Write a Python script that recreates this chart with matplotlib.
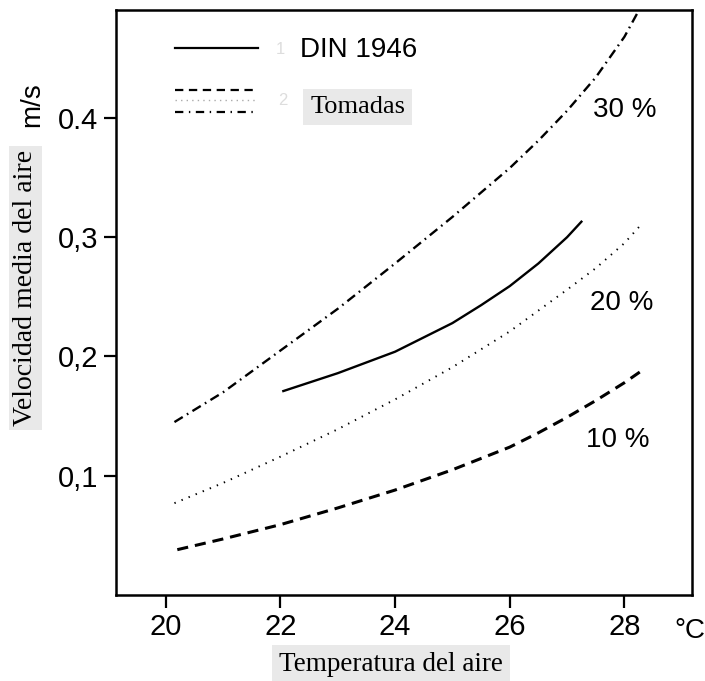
import matplotlib.pyplot as plt

plt.rcParams['lines.scale_dashes'] = False

# temperatura (°C) y velocidad media del aire (m/s)
t_30 = [20.15, 21.0, 22.0, 23.0, 24.0, 25.0, 26.0, 26.5, 27.0, 27.5, 28.0, 28.25]
v_30 = [0.145, 0.170, 0.205, 0.240, 0.278, 0.317, 0.358, 0.381, 0.406, 0.434, 0.468, 0.490]

t_din = [22.05, 23.0, 24.0, 25.0, 25.5, 26.0, 26.5, 27.0, 27.25]
v_din = [0.171, 0.186, 0.204, 0.228, 0.243, 0.259, 0.278, 0.300, 0.313]

t_20 = [20.15, 21.0, 22.0, 23.0, 24.0, 25.0, 26.0, 27.0, 27.5, 28.0, 28.3]
v_20 = [0.077, 0.094, 0.116, 0.139, 0.164, 0.191, 0.221, 0.256, 0.274, 0.295, 0.311]

t_10 = [20.2, 21.0, 22.0, 23.0, 24.0, 25.0, 26.0, 26.5, 27.0, 27.5, 28.0, 28.27]
v_10 = [0.038, 0.047, 0.059, 0.073, 0.088, 0.105, 0.124, 0.136, 0.149, 0.163, 0.178, 0.187]

xticks = [20, 22, 24, 26, 28]
yticks = [0.1, 0.2, 0.3, 0.4]
ytick_labels = ['0,1', '0,2', '0,3', '0.4']

sans = 'Liberation Sans'
serif = 'Liberation Serif'
grey = '#e9e9e9'

fig = plt.figure(figsize=(7.05, 6.81), dpi=100)
ax = fig.add_axes([0.1645, 0.1263, 0.8171, 0.859])

ax.plot(t_30, v_30, color='black', lw=1.7, dashes=(7, 3.5, 1.2, 3.5))
ax.plot(t_din, v_din, color='black', lw=1.7)
ax.plot(t_20, v_20, color='black', lw=1.4, dashes=(1, 4.5))
ax.plot(t_10, v_10, color='black', lw=2.2, dashes=(8, 5))

ax.set_xlim(19.13, 29.18)
ax.set_ylim(0, 0.4905)
ax.set_xticks(xticks)
ax.set_xticklabels([str(t) for t in xticks], fontsize=21, family=sans)
ax.set_yticks(yticks)
ax.set_yticklabels(ytick_labels, fontsize=21, family=sans)
ax.tick_params(direction='out', length=9, width=1.6, pad=4)
for s in ax.spines.values():
    s.set_linewidth(1.8)

# etiquetas de las curvas
ax.text(28.0, 0.407, '30 %', fontsize=20, family=sans, ha='center', va='center')
ax.text(27.95, 0.245, '20 %', fontsize=20, family=sans, ha='center', va='center')
ax.text(27.88, 0.130, '10 %', fontsize=20, family=sans, ha='center', va='center')

# leyenda dibujada a mano
tr = ax.transAxes
ax.plot([0.102, 0.2465], [0.935, 0.935], color='black', lw=1.6, transform=tr)
ax.plot([0.102, 0.2465], [0.863, 0.863], color='black', lw=1.6, dashes=(6, 4), transform=tr)
ax.plot([0.102, 0.2465], [0.846, 0.846], color='#aaaaaa', lw=1.0, dashes=(1, 3), transform=tr)
ax.plot([0.102, 0.2465], [0.826, 0.826], color='black', lw=1.6, dashes=(6, 4, 1, 4), transform=tr)
ax.text(0.285, 0.932, '1', fontsize=12, family=sans, color='#dddddd', ha='center', va='center', transform=tr)
ax.text(0.290, 0.846, '2', fontsize=12, family=sans, color='#dddddd', ha='center', va='center', transform=tr)
ax.text(0.319, 0.932, 'DIN 1946', fontsize=20, family=sans, ha='left', va='center', transform=tr)
ax.text(0.337, 0.834, 'Tomadas', fontsize=19, family=serif, ha='left', va='center', transform=tr,
        bbox=dict(facecolor=grey, edgecolor='none', pad=5))

# títulos de los ejes
fig.text(0.555, 0.024, 'Temperatura del aire', fontsize=19.5, family=serif, ha='center', va='center',
         bbox=dict(facecolor=grey, edgecolor='none', pad=5))
fig.text(0.979, 0.073, '°C', fontsize=20, family=sans, ha='center', va='center')
fig.text(0.036, 0.577, 'Velocidad media del aire', fontsize=20, family=serif, rotation=90,
         ha='center', va='center', bbox=dict(facecolor=grey, edgecolor='none', pad=3))
fig.text(0.045, 0.846, 'm/s', fontsize=20, family=sans, rotation=90, ha='center', va='center')

fig.savefig('out.png', dpi=100)
